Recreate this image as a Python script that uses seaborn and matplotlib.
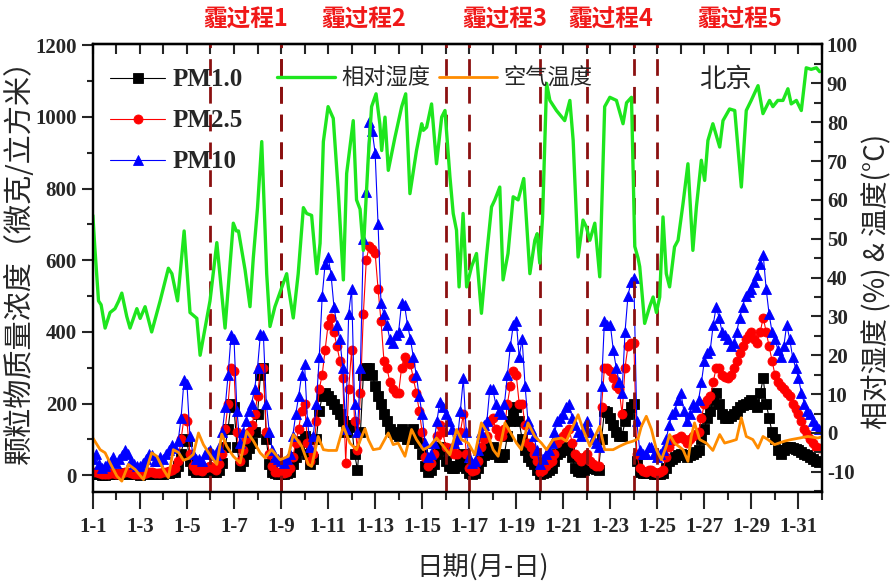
import numpy as np
import matplotlib
matplotlib.use("Agg")
import matplotlib.pyplot as plt
import seaborn as sns
from matplotlib.ticker import MultipleLocator, FixedLocator, NullFormatter

sns.set_style("ticks")
plt.rcParams["font.family"] = ["Liberation Serif", "Noto Sans CJK SC", "DejaVu Sans"]
plt.rcParams["axes.unicode_minus"] = False

CJK = ["Noto Sans CJK SC", "DejaVu Sans"]
NUM = ["Liberation Serif", "DejaVu Serif"]

# ---- particle mass concentrations (ug/m3), every 3 h; one row per day, 1-1 ... 1-31 ----
pm10 = [
    45, 60, 30, 20, 25, 35, 40, 50,
    35, 45, 55, 70, 60, 40, 30, 25,
    25, 35, 45, 60, 55, 40, 40, 50,
    45, 60, 70, 85, 75, 95, 160, 265,
    255, 110, 60, 45, 45, 40, 60, 65,
    70, 60, 55, 80, 120, 190, 280, 390,
    380, 180, 90, 120, 150, 180, 200, 240,
    300, 395, 390, 200, 120, 70, 50, 45,
    40, 35, 45, 60, 110, 170, 220, 280,
    310, 150, 80, 110, 200, 330, 500, 590,
    610, 560, 470, 420, 380, 300, 130, 450,
    520, 200, 120, 300, 660, 790, 985, 960,
    900, 700, 480, 450, 420, 380, 370, 390,
    400, 480, 475, 420, 380, 330, 280, 220,
    170, 90, 50, 60, 90, 150, 205, 190,
    170, 150, 130, 90, 100, 180, 270, 120,
    50, 35, 40, 70, 120, 140, 150, 240,
    240, 200, 180, 170, 200, 280, 360, 420,
    430, 330, 380, 250, 150, 130, 110, 70,
    30, 45, 60, 70, 90, 120, 150, 160,
    170, 190, 200, 160, 140, 120, 110, 130,
    150, 120, 100, 90, 80, 250, 430, 420,
    420, 350, 300, 260, 230, 400, 500, 540,
    550, 150, 70, 60, 60, 80, 80, 60,
    50, 60, 70, 100, 140, 170, 180, 210,
    230, 180, 150, 170, 200, 190, 210, 260,
    320, 340, 350, 420, 470, 440, 400, 390,
    380, 360, 370, 400, 440, 470, 500, 510,
    520, 540, 560, 590, 615, 520, 450, 400,
    380, 350, 330, 360, 420, 380, 330, 300,
    270, 230, 200, 180, 170, 150, 140, 130,
]
pm25 = [
    8, 10, 5, 3, 3, 4, 5, 6,
    4, 5, 6, 10, 8, 5, 4, 3,
    3, 4, 6, 8, 8, 6, 6, 7,
    8, 10, 12, 15, 20, 40, 100, 160,
    150, 60, 25, 15, 15, 12, 20, 22,
    25, 20, 15, 30, 60, 130, 200, 300,
    290, 120, 40, 70, 100, 120, 140, 170,
    220, 300, 300, 120, 60, 25, 10, 8,
    8, 6, 10, 20, 50, 90, 130, 180,
    200, 90, 40, 60, 150, 240, 280, 350,
    420, 440, 400, 360, 320, 270, 35, 240,
    350, 150, 70, 230, 450, 600, 640, 630,
    620, 520, 430, 320, 300, 260, 240, 230,
    230, 300, 330, 320, 310, 270, 230, 180,
    120, 50, 25, 35, 60, 110, 140, 120,
    80, 75, 70, 60, 60, 120, 170, 60,
    20, 12, 15, 40, 80, 100, 110, 150,
    160, 130, 110, 110, 130, 200, 250, 290,
    280, 200, 200, 140, 90, 80, 60, 40,
    10, 15, 25, 35, 40, 60, 90, 100,
    110, 120, 130, 90, 60, 50, 40, 50,
    60, 40, 30, 25, 25, 190, 300, 300,
    290, 270, 250, 240, 170, 300, 360, 370,
    370, 60, 20, 12, 10, 15, 15, 8,
    5, 8, 15, 50, 80, 95, 100, 105,
    110, 100, 90, 100, 110, 115, 120, 160,
    200, 210, 220, 260, 300, 300, 280, 275,
    270, 280, 300, 320, 340, 360, 380, 390,
    400, 380, 370, 400, 440, 400, 360, 320,
    280, 260, 250, 240, 230, 220, 200, 185,
    170, 150, 130, 115, 100, 90, 80, 75,
]
pm1 = [
    3, 4, 2, 1, 1, 2, 2, 3,
    2, 3, 3, 5, 4, 3, 2, 2,
    1, 2, 3, 4, 4, 3, 3, 4,
    4, 5, 6, 8, 10, 25, 60, 100,
    95, 40, 15, 10, 8, 8, 10, 12,
    12, 10, 8, 15, 35, 80, 130, 200,
    190, 80, 25, 40, 60, 75, 90, 120,
    170, 280, 300, 100, 30, 10, 5, 4,
    3, 3, 5, 10, 30, 50, 70, 95,
    110, 60, 30, 45, 100, 180, 220, 230,
    220, 210, 200, 185, 170, 150, 120, 135,
    140, 60, 15, 120, 280, 300, 300, 280,
    250, 220, 200, 170, 150, 130, 120, 115,
    110, 130, 120, 100, 100, 130, 110, 90,
    60, 25, 10, 15, 30, 60, 80, 70,
    40, 25, 20, 20, 25, 45, 60, 20,
    5, 3, 5, 20, 40, 55, 60, 75,
    80, 60, 50, 50, 60, 110, 150, 180,
    190, 150, 100, 70, 50, 40, 30, 15,
    3, 5, 10, 15, 20, 40, 60, 65,
    70, 75, 80, 50, 20, 12, 10, 15,
    20, 20, 20, 18, 15, 100, 180, 175,
    160, 140, 120, 110, 110, 150, 170, 190,
    200, 40, 10, 6, 5, 6, 5, 4,
    3, 3, 5, 20, 40, 45, 50, 55,
    60, 55, 50, 55, 60, 65, 70, 100,
    130, 160, 180, 210, 230, 200, 170, 160,
    160, 165, 170, 180, 190, 195, 200, 205,
    210, 200, 190, 230, 270, 200, 160, 120,
    100, 70, 60, 70, 80, 78, 75, 72,
    70, 65, 60, 55, 50, 45, 40, 38,
]
pm_time = np.arange(len(pm10)) / 8.0   # days since 1-1 00:00

# ---- relative humidity (%) ----
rh_time = [0.0, 0.08, 0.15, 0.24, 0.35, 0.52, 0.73, 0.94, 1.1, 1.23, 1.44, 1.58, 1.87, 2.01,
           2.22, 2.5, 2.86, 3.21, 3.36, 3.6, 3.88, 4.13, 4.42, 4.56, 4.77, 4.98, 5.27, 5.62,
           5.97, 6.1, 6.19, 6.47, 6.68, 6.82, 7.0, 7.18, 7.39, 7.53, 7.74, 8.1, 8.24, 8.31,
           8.52, 8.73, 8.95, 9.09, 9.3, 9.52, 9.66, 9.8, 10.0, 10.22, 10.43, 10.65, 10.79,
           11.07, 11.21, 11.36, 11.5, 11.71, 11.85, 12.04, 12.2, 12.28, 12.42, 12.56, 12.84,
           13.13, 13.3, 13.48, 13.76, 13.98, 14.05, 14.19, 14.4, 14.61, 14.83, 14.97, 15.18,
           15.32, 15.46, 15.57, 15.74, 15.89, 16.1, 16.31, 16.52, 16.74, 16.95, 17.09, 17.3,
           17.44, 17.65, 17.87, 18.08, 18.32, 18.58, 18.79, 18.89, 19.0, 19.12, 19.29, 19.43,
           19.71, 20.06, 20.28, 20.42, 20.63, 20.84, 20.98, 21.13, 21.34, 21.55, 21.76, 21.98,
           22.26, 22.54, 22.69, 22.9, 23.04, 23.18, 23.25, 23.46, 23.67, 23.82, 23.96, 24.1,
           24.24, 24.38, 24.52, 24.73, 24.88, 25.09, 25.3, 25.51, 25.66, 25.87, 26.01, 26.15,
           26.36, 26.65, 26.79, 27.07, 27.29, 27.57, 27.78, 27.99, 28.28, 28.49, 28.77, 28.91,
           29.12, 29.34, 29.55, 29.69, 29.91, 30.12, 30.33, 30.54, 30.76, 30.9]
rh_value = [56, 48, 42, 34, 33, 27, 31, 32, 34, 36, 30, 27, 32, 29.5,
            32.5, 26, 34, 42.4, 41, 34, 52, 31, 29.5, 20, 27, 34, 49, 27,
            54, 52, 52, 42, 32.5, 45, 58, 75, 41, 27.4, 32.5, 38.6, 41, 37.6,
            29.6, 41, 58, 56.5, 56, 41, 48.8, 75, 84, 81, 62.5, 39.4, 66.8,
            80.4, 60, 57.6, 47, 71, 84, 87.3, 79.6, 72.7, 81.3, 67.6, 76,
            84, 87.3, 61.6, 72.7, 79.6, 77.9, 78.7, 84.7, 69.3, 81.3, 83, 66,
            56.5, 52.2, 37.6, 56.5, 37.6, 42.8, 46.2, 30.8, 45.7, 58.2, 60, 63.3,
            39.4, 46.2, 60.8, 60, 65.5, 41, 49.6, 51.3, 43.7, 55.6, 90, 85.6,
            83, 80.4, 85.6, 75.3, 45.3, 54.8, 53, 49.6, 54, 40.2, 84, 86.4,
            85.6, 79.6, 85, 86.4, 48, 45, 42.8, 28.2, 32.5, 35, 31, 35,
            55.6, 41, 37.6, 47.9, 49.6, 59, 69.3, 47, 58.2, 70.2, 65, 75.3,
            79.6, 73.6, 80.4, 83.4, 83, 63.3, 83, 85.6, 89.4, 82.2, 85.6, 84,
            85.6, 85.6, 88.6, 84.7, 85.6, 83, 94, 93.6, 94, 93]

# ---- air temperature (°C) ----
t_time = [0.0, 0.31, 0.52, 0.73, 1.02, 1.23, 1.51, 1.8, 2.15, 2.5, 2.72, 3.0, 3.21, 3.42,
          3.64, 3.85, 4.06, 4.27, 4.49, 4.7, 4.91, 5.27, 5.48, 5.69, 5.97, 6.26, 6.54, 6.82,
          7.11, 7.32, 7.6, 7.96, 8.31, 8.52, 8.88, 9.16, 9.3, 9.58, 9.8, 10.01, 10.36, 10.65,
          10.93, 11.21, 11.43, 11.57, 11.71, 11.92, 12.2, 12.56, 12.77, 12.98, 13.27, 13.55,
          13.76, 14.05, 14.33, 14.61, 14.9, 15.18, 15.46, 15.67, 15.96, 16.24, 16.52, 16.74,
          17.02, 17.23, 17.52, 17.73, 18.01, 18.22, 18.5, 18.79, 19.07, 19.29, 19.57, 19.92,
          20.13, 20.35, 20.63, 20.84, 21.13, 21.34, 21.55, 21.76, 22.12, 22.4, 22.69, 22.97,
          23.18, 23.32, 23.53, 23.75, 23.96, 24.17, 24.38, 24.52, 24.73, 25.09, 25.3, 25.44,
          25.58, 25.8, 26.08, 26.36, 26.65, 26.86, 27.15, 27.36, 27.57, 27.78, 28.06, 28.28,
          28.49, 28.7, 28.98, 29.41, 29.69, 30.05, 30.4, 30.82, 31.0]
t_value = [-1.3, -4.3, -5.1, -7.7, -11.1, -12.4, -8.1, -9.4, -12, -5.1, -6, -9.4, -11.5, -4.3,
           -5, -7, -6.6, -5.5, 0, -3, -5, -8.1, -0.3, -3.4, -6, -7.7, 0.4, -2,
           -5.1, -6.4, -4.3, -6.9, -6, -0.4, -3.4, -8.1, -8.6, -0.9, -4.3, -4.5, -4.5, 1.7,
           -2.6, -4.3, -0.9, 1.1, -1.7, -4.3, -4, 0, -3, -2.6, -6, 0.9,
           -1.7, -4.3, -3.4, -1.3, -3.4, -5.6, 0.9, -1.7, -2.6, -5.6, 2.6, 0.4,
           -4.3, -6, 2.6, 0.4, -2.6, -4.3, 2.6, -0.9, -2.6, -4.3, -1.7, -1.3,
           -2.1, 0.9, 4.7, 0.9, -3.4, -0.9, 1.7, -4.3, -4.3, -3.4, -2.6, -2.1,
           -1.5, 1.7, 4.3, 0.9, -4.3, -6.9, -3.4, -0.4, -2.6, -4.3, -7.3, -0.9,
           2.6, -1.7, -2.6, -4.5, -0.4, -2.6, -2.1, -1.7, 3.9, -0.9, -1.7, -3.9,
           -0.9, -1.7, -3, -2.1, -1.7, -1.3, -0.9, -1.3, -1.0]

# ---- haze episodes (start day, end day) and their labels ----
haze_spans = [(5, 8), (8, 15), (16, 19), (21, 23), (24, 31)]
haze_names = ["霾过程1", "霾过程2", "霾过程3", "霾过程4", "霾过程5"]

date_ticks = list(range(0, 31, 2))
date_labels = ["1-%d" % (d + 1) for d in date_ticks]

fig = plt.figure(figsize=(8.93, 5.84), dpi=100)
ax = fig.add_axes([0.104, 0.1575, 0.8165, 0.767])

series = [(pm1, "PM1.0", "black", "s"),
          (pm25, "PM2.5", "red", "o"),
          (pm10, "PM10", "blue", "^")]
for vals, name, col, mk in series:
    sns.lineplot(x=pm_time, y=vals, ax=ax, color=col, marker=mk, markersize=6.5,
                 markeredgecolor=col, markeredgewidth=0.6, linewidth=0.8,
                 label=name, sort=False, legend=False)
pm_handles = list(ax.get_lines())

ax.set_xlim(0, 31)
ax.set_ylim(-47, 1203)
ax.xaxis.set_major_locator(FixedLocator(date_ticks))
ax.set_xticklabels(date_labels)
ax.xaxis.set_minor_locator(MultipleLocator(1))
ax.set_yticks([0, 200, 400, 600, 800, 1000, 1200])
ax.yaxis.set_minor_locator(MultipleLocator(100))
ax.tick_params(axis="x", which="major", direction="out", length=12, width=1.5, pad=6)
ax.tick_params(axis="x", which="minor", direction="out", length=6, width=1.5)
ax.tick_params(axis="y", which="major", direction="out", length=8, width=1.5, right=False)
ax.tick_params(axis="y", which="minor", direction="out", length=4, width=1.5, right=False)
for lab in ax.get_xticklabels() + ax.get_yticklabels():
    lab.set_fontfamily(NUM)
    lab.set_fontweight("bold")
    lab.set_fontsize(15)
ax.set_xlabel("日期(月-日)", fontsize=19, fontfamily=CJK)
ax.xaxis.set_label_coords(0.534, -0.137)
ax.set_ylabel("颗粒物质量浓度（微克/立方米）", fontsize=21, fontfamily=CJK)
ax.yaxis.set_label_coords(-0.079, 0.53)

top = ax.secondary_xaxis("top")
top.set_xticks(range(0, 32))
top.xaxis.set_major_formatter(NullFormatter())
top.tick_params(direction="in", length=7, width=1.5)

ax2 = ax.twinx()
sns.lineplot(x=rh_time, y=rh_value, ax=ax2, color="#1EE61E", linewidth=2.4,
             label="相对湿度", sort=False, legend=False)
sns.lineplot(x=t_time, y=t_value, ax=ax2, color="#FF8C00", linewidth=2.0,
             label="空气温度", sort=False, legend=False)
met_handles = list(ax2.get_lines())

for (start, end), name in zip(haze_spans, haze_names):
    for xv in (start, end):
        ax2.axvline(xv, color="#8B1010", linewidth=2.0, linestyle=(0, (6, 4)), zorder=1)
    ax2.text((start + end) / 2, 1.055, name,
             transform=ax2.get_xaxis_transform(), ha="center", va="center",
             fontsize=17, fontweight="bold", color="#F01818", fontfamily=CJK)

ax2.set_ylim(-15.2, 100.1)
ax2.set_xlim(0, 31)
ax2.set_yticks(list(range(-10, 101, 10)))
ax2.yaxis.set_minor_locator(MultipleLocator(5))
ax2.tick_params(axis="y", which="major", direction="in", length=8, width=1.5, left=False)
ax2.tick_params(axis="y", which="minor", direction="in", length=6, width=1.5, left=False)
for lab in ax2.get_yticklabels():
    lab.set_fontfamily(NUM)
    lab.set_fontweight("bold")
    lab.set_fontsize(15)
ax2.set_ylabel("相对湿度 (%) & 温度(°C)", fontsize=20, fontfamily=CJK)
ax2.yaxis.set_label_coords(1.056, 0.47)

for a in (ax, ax2):
    for sp in a.spines.values():
        sp.set_linewidth(1.6)
        sp.set_color("black")
top.spines["top"].set_linewidth(1.6)

leg1 = ax2.legend(handles=pm_handles, loc="upper left", bbox_to_anchor=(0.0, 0.985),
                  frameon=False, handlelength=2.2, handletextpad=0.3, labelspacing=0.72,
                  borderaxespad=0.3, prop={"family": NUM, "weight": "bold", "size": 18})
ax2.add_artist(leg1)
ax2.legend(handles=met_handles, loc="upper left", bbox_to_anchor=(0.225, 0.995), ncol=2,
           frameon=False, handlelength=2.6, handletextpad=0.3, columnspacing=0.4,
           prop={"family": CJK, "size": 16})

ax2.text(0.867, 0.92, "北京", transform=ax2.transAxes, ha="center", va="center",
         fontsize=19, fontfamily=CJK)

fig.savefig("out.png", dpi=100)
